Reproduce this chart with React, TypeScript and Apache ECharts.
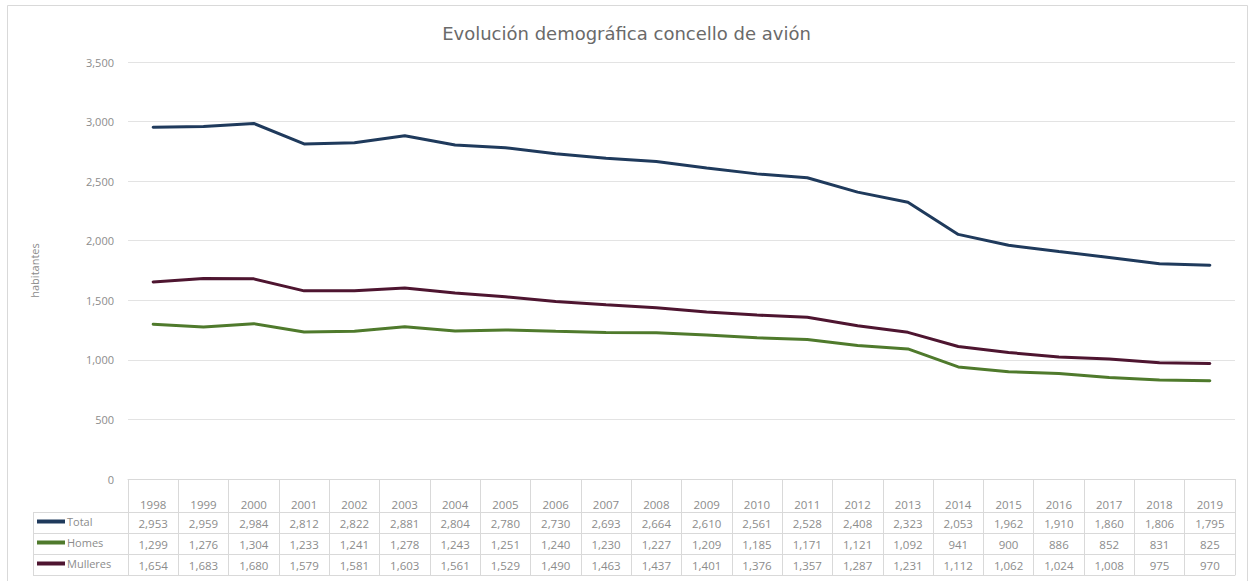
import React, { useEffect, useRef } from "react";
import * as echarts from "echarts";

const years = ["1998","1999","2000","2001","2002","2003","2004","2005","2006","2007","2008","2009","2010","2011","2012","2013","2014","2015","2016","2017","2018","2019"];
const total = [2953,2959,2984,2812,2822,2881,2804,2780,2730,2693,2664,2610,2561,2528,2408,2323,2053,1962,1910,1860,1806,1795];
const homes = [1299,1276,1304,1233,1241,1278,1243,1251,1240,1230,1227,1209,1185,1171,1121,1092,941,900,886,852,831,825];
const mulleres = [1654,1683,1680,1579,1581,1603,1561,1529,1490,1463,1437,1401,1376,1357,1287,1231,1112,1062,1024,1008,975,970];
const seriesNames = ["Total", "Homes", "Mulleres"];
const colors = ["#1f3a5c", "#4f7a2c", "#4e1530"];
const title = "Evolución demográfica concello de avión";
const yName = "habitantes";

const fmt = (v: number) => v.toLocaleString("en-US");

export default function App() {
  const ref = useRef<HTMLDivElement>(null);
  useEffect(() => {
    const chart = echarts.init(ref.current!, null, { renderer: "svg" });
    const font = "'Open Sans', 'Noto Sans', sans-serif";
    const gridColor = "#d9d9d9";
    const textColor = "#8c8c8c";
    const rows = [total, homes, mulleres];
    const rowH = 21;
    const headerH = 33;
    const baseX = {
      type: "category",
      gridIndex: 0,
      position: "bottom",
      boundaryGap: true,
      axisLine: { show: true, lineStyle: { color: gridColor, width: 1 } },
      axisTick: { show: true, interval: 0, alignWithLabel: false, inside: false, lineStyle: { color: gridColor } },
    };
    const xAxes: any[] = [
      {
        ...baseX,
        data: years,
        axisTick: { ...baseX.axisTick, length: headerH },
        axisLabel: { interval: 0, margin: 19, color: textColor, fontSize: 11.5, fontFamily: font },
      },
    ];
    rows.forEach((r, i) => {
      xAxes.push({
        ...baseX,
        data: r.map(fmt),
        offset: headerH + i * rowH,
        axisTick: { ...baseX.axisTick, length: rowH },
        axisLabel: { interval: 0, margin: 5, color: textColor, fontSize: 11.5, fontFamily: font },
      });
    });
    xAxes.push({
      ...baseX,
      data: years,
      offset: headerH + 3 * rowH,
      axisTick: { show: false },
      axisLabel: { show: false },
    });

    const gridLeft = 128;
    const gridBottomY = 479;
    const legendLeftX = 33;
    const graphics: any[] = [];
    for (let i = 0; i <= 3; i++) {
      const y = gridBottomY + headerH + i * rowH + 0.5;
      graphics.push({ type: "line", shape: { x1: legendLeftX, y1: y, x2: gridLeft, y2: y }, style: { stroke: gridColor, lineWidth: 1 } });
    }
    graphics.push({ type: "line", shape: { x1: legendLeftX + 0.5, y1: gridBottomY + headerH, x2: legendLeftX + 0.5, y2: gridBottomY + headerH + 3 * rowH }, style: { stroke: gridColor, lineWidth: 1 } });
    graphics.push({ type: "line", shape: { x1: gridLeft + 0.5, y1: gridBottomY, x2: gridLeft + 0.5, y2: gridBottomY + headerH + 3 * rowH }, style: { stroke: gridColor, lineWidth: 1 } });
    graphics.push({ type: "rect", shape: { x: 7.5, y: 5.5, width: 1240, height: 580 }, style: { fill: "none", stroke: "#d9d9d9", lineWidth: 1 }, silent: true, z: -1 });

    const legends = seriesNames.map((n, i) => ({
      data: [n],
      left: legendLeftX + 4,
      top: gridBottomY + headerH + i * rowH + 4,
      padding: 0,
      itemWidth: 28,
      itemHeight: 4,
      icon: "rect",
      itemGap: 2,
      textStyle: { color: textColor, fontSize: 11, fontFamily: font, padding: [0, 0, 0, -3] },
    }));

    chart.setOption({
      animation: false,
      backgroundColor: "#ffffff",
      title: {
        text: title,
        left: "center",
        top: 19,
        textStyle: { color: "#6a6a6a", fontSize: 18, fontWeight: "normal", fontFamily: "'DejaVu Sans', sans-serif" },
      },
      legend: legends,
      grid: { left: gridLeft, right: 18, top: 62, bottom: 581 - gridBottomY, containLabel: false },
      xAxis: xAxes,
      yAxis: {
        type: "value",
        min: 0,
        max: 3500,
        interval: 500,
        name: yName,
        nameLocation: "middle",
        nameGap: 88,
        nameTextStyle: { color: textColor, fontSize: 11, fontFamily: font },
        axisLine: { show: false },
        axisTick: { show: false },
        axisLabel: { color: textColor, fontSize: 11, fontFamily: font, margin: 14, formatter: (v: number) => fmt(v) },
        splitLine: { lineStyle: { color: "#e3e3e3", width: 1 } },
      },
      graphic: graphics,
      series: [total, homes, mulleres].map((d, i) => ({
        name: seriesNames[i],
        type: "line",
        xAxisIndex: 0,
        data: d,
        symbol: "none",
        color: colors[i],
        lineStyle: { width: 3, color: colors[i], cap: "round" },
      })),
    });
    return () => chart.dispose();
  }, []);
  return <div ref={ref} style={{ width: 1253, height: 581, position: "absolute", left: 0, top: 0 }} />;
}
